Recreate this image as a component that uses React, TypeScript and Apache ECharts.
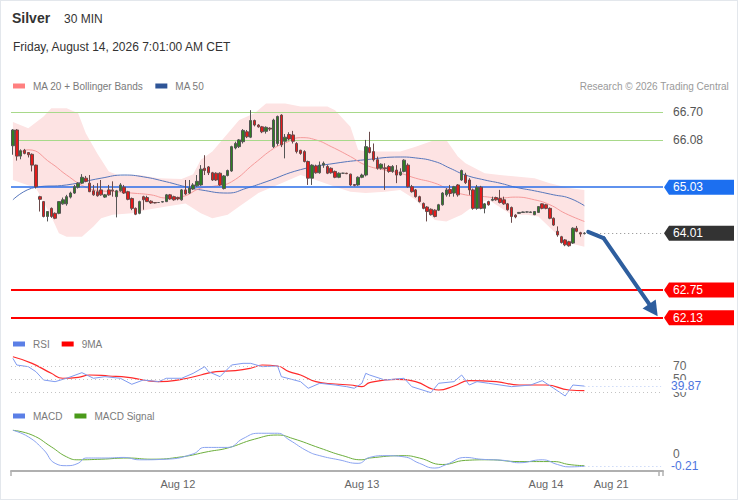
import React, { useEffect, useRef } from 'react';
import * as echarts from 'echarts';

const FONT = '"Liberation Sans", Arial, Helvetica, sans-serif';

// ---- categories (30-minute bars, plus empty room on the right for the projection)
const N_CATEGORIES = 170;
const START_TIME = Date.UTC(2026, 7, 11, 2, 30);
const categories = Array.from({ length: N_CATEGORIES }, (_, i) =>
  new Date(START_TIME + i * 30 * 60 * 1000).toISOString()
);
const xTickIndex = [43, 91, 139, 156];
const xTickText = ['Aug 12', 'Aug 13', 'Aug 14', 'Aug 21'];

// ---- candles
const opens = [
  65.95, 66.30, 65.72, 65.85, 65.80, 65.76, 65.52, 64.82, 64.71, 64.38,
  64.56, 64.45, 64.45, 64.66, 64.66, 64.81, 64.90, 65.03, 65.12, 65.23,
  65.12, 64.95, 64.93, 64.97, 64.81, 64.97, 64.97, 64.82, 64.95, 65.03,
  64.93, 64.78, 64.56, 64.45, 64.82, 64.80, 64.72, 64.69, 64.69, 64.70,
  64.71, 64.86, 64.82, 64.80, 64.75, 64.97, 64.90, 64.99, 65.06, 65.08,
  65.45, 65.48, 65.35, 65.34, 65.34, 65.00, 65.29, 65.39, 65.90, 65.93,
  66.04, 66.26, 66.14, 66.51, 66.41, 66.37, 66.27, 66.34, 65.93, 66.00,
  66.63, 66.05, 66.20, 66.19, 66.00, 65.85, 65.82, 65.60, 65.23, 65.50,
  65.35, 65.52, 65.49, 65.45, 65.38, 65.25, 65.34, 65.34, 65.32, 65.09,
  65.08, 65.25, 65.30, 65.91, 65.82, 65.64, 65.45, 65.46, 65.49, 65.38,
  65.41, 65.30, 65.38, 65.52, 65.04, 64.97, 64.82, 64.67, 64.59, 64.54,
  64.52, 64.52, 64.64, 64.86, 64.98, 64.90, 65.08, 65.19, 65.30, 65.19,
  64.97, 64.56, 65.03, 64.56, 64.71, 64.74, 64.80, 64.78, 64.75, 64.66,
  64.58, 64.41, 64.45, 64.47, 64.48, 64.47, 64.42, 64.47, 64.66, 64.64,
  64.56, 64.34, 64.05, 63.93, 63.86, 63.82, 63.79, 64.12, 64.02, 64.00,
];
const closes = [
  66.30, 65.72, 65.84, 65.78, 65.75, 65.52, 65.04, 64.76, 64.38, 64.49,
  64.38, 64.34, 64.71, 64.75, 64.82, 64.90, 65.04, 65.12, 65.25, 65.16,
  64.93, 64.86, 64.84, 64.86, 64.86, 64.86, 64.95, 64.95, 65.08, 64.90,
  64.76, 64.56, 64.43, 64.71, 64.75, 64.71, 64.68, 64.68, 64.69, 64.71,
  64.86, 64.77, 64.75, 64.77, 64.97, 64.88, 65.01, 65.08, 65.16, 65.43,
  65.40, 65.35, 65.19, 65.19, 65.08, 65.28, 65.40, 65.93, 66.00, 66.08,
  66.29, 66.15, 66.51, 66.41, 66.37, 66.26, 66.36, 66.32, 66.52, 66.60,
  65.97, 66.14, 66.10, 66.05, 65.82, 65.78, 65.60, 65.23, 65.52, 65.35,
  65.52, 65.56, 65.34, 65.35, 65.25, 65.34, 65.34, 65.33, 65.08, 65.07,
  65.25, 65.30, 65.93, 65.80, 65.64, 65.45, 65.54, 65.44, 65.38, 65.49,
  65.30, 65.37, 65.63, 65.04, 64.93, 64.82, 64.71, 64.56, 64.49, 64.42,
  64.38, 64.64, 64.90, 64.97, 64.89, 65.04, 64.86, 65.40, 65.13, 64.97,
  64.56, 65.03, 64.56, 64.66, 64.64, 64.76, 64.75, 64.69, 64.66, 64.53,
  64.38, 64.37, 64.47, 64.48, 64.48, 64.48, 64.49, 64.60, 64.56, 64.56,
  64.34, 64.19, 63.97, 63.80, 63.75, 63.73, 64.12, 64.05, 63.99, 64.01,
];
const lows = [
  65.75, 65.62, 65.65, 65.76, 65.69, 65.38, 65.00, 64.49, 64.36, 64.27,
  64.35, 64.32, 64.43, 64.64, 64.62, 64.78, 64.88, 65.00, 65.10, 65.14,
  64.92, 64.84, 64.82, 64.84, 64.79, 64.84, 64.82, 64.36, 64.93, 64.88,
  64.74, 64.52, 64.41, 64.43, 64.53, 64.70, 64.66, 64.67, 64.68, 64.69,
  64.70, 64.75, 64.73, 64.74, 64.73, 64.86, 64.88, 64.97, 65.04, 65.06,
  65.30, 65.30, 65.17, 65.17, 65.06, 64.98, 65.27, 65.37, 65.87, 65.90,
  66.00, 66.12, 66.12, 66.38, 66.35, 66.23, 66.22, 66.28, 65.90, 65.95,
  65.92, 65.67, 66.07, 66.00, 65.78, 65.75, 65.58, 65.08, 65.08, 65.33,
  65.33, 65.46, 65.32, 65.33, 65.23, 65.23, 65.33, 65.32, 65.06, 65.05,
  65.06, 65.23, 65.27, 65.78, 65.60, 65.42, 65.42, 64.97, 65.35, 65.35,
  65.12, 65.28, 65.36, 65.02, 64.91, 64.80, 64.69, 64.54, 64.27, 64.40,
  64.36, 64.50, 64.62, 64.82, 64.82, 64.82, 64.82, 65.17, 65.10, 64.86,
  64.53, 64.53, 64.54, 64.45, 64.62, 64.72, 64.73, 64.67, 64.64, 64.51,
  64.24, 64.34, 64.44, 64.46, 64.47, 64.46, 64.41, 64.46, 64.54, 64.54,
  64.32, 64.17, 63.93, 63.78, 63.72, 63.71, 63.77, 64.03, 63.93, 63.98,
];
const highs = [
  66.32, 66.32, 65.87, 65.88, 65.81, 65.78, 65.53, 64.84, 64.72, 64.50,
  64.58, 64.47, 64.72, 64.80, 64.86, 64.93, 65.08, 65.14, 65.32, 65.28,
  65.30, 65.08, 65.12, 65.19, 64.88, 65.08, 65.16, 64.97, 65.12, 65.08,
  64.95, 64.80, 64.58, 64.73, 64.84, 64.84, 64.74, 64.70, 64.70, 64.72,
  64.88, 64.88, 64.84, 64.82, 64.99, 65.19, 65.19, 65.12, 65.30, 65.52,
  65.74, 65.50, 65.37, 65.36, 65.36, 65.30, 65.42, 65.95, 66.04, 66.10,
  66.32, 66.30, 66.74, 66.53, 66.43, 66.39, 66.38, 66.36, 66.55, 66.62,
  66.65, 66.21, 66.25, 66.28, 66.03, 65.86, 65.85, 65.62, 65.54, 65.53,
  65.60, 65.60, 65.52, 65.47, 65.40, 65.36, 65.35, 65.35, 65.33, 65.10,
  65.27, 65.33, 66.08, 66.26, 66.00, 65.71, 65.56, 65.56, 65.52, 65.52,
  65.52, 65.45, 65.65, 65.56, 65.08, 64.99, 64.84, 64.69, 64.61, 64.56,
  64.54, 64.66, 64.92, 65.01, 65.08, 65.06, 65.10, 65.42, 65.35, 65.23,
  65.00, 65.08, 65.06, 64.68, 64.73, 64.82, 64.82, 64.97, 64.82, 64.68,
  64.60, 64.43, 64.48, 64.49, 64.49, 64.49, 64.50, 64.61, 64.67, 64.66,
  64.58, 64.36, 64.16, 63.95, 63.88, 63.84, 64.14, 64.17, 64.04, 64.03,
];

// ---- overlays: [bar index, value]
const ma20 = [
  [1, 65.75], [4, 65.86], [10, 65.56], [14, 65.30], [19, 65.03], [23, 64.95], [27, 64.93],
  [31, 64.90], [36, 64.86], [40, 64.79], [44, 64.82], [49, 65.01], [53, 65.06], [57, 65.15],
  [63, 65.56], [68, 65.89], [71, 66.01], [75, 66.13], [79, 66.08], [83, 65.93], [88, 65.71],
  [92, 65.52], [97, 65.41], [101, 65.34], [105, 65.23], [110, 65.12], [114, 64.97],
  [118, 64.86], [123, 64.82], [127, 64.79], [131, 64.81], [136, 64.75], [140, 64.64],
  [144, 64.45], [149, 64.27],
];
const ma50 = [
  [0, 64.75], [6, 65.03], [14, 65.08], [23, 65.23], [29, 65.30], [34, 65.26], [40, 65.15],
  [45, 65.04], [49, 64.97], [56, 64.90], [61, 65.01], [66, 65.15], [75, 65.42], [84, 65.56],
  [92, 65.64], [101, 65.70], [105, 65.68], [110, 65.60], [114, 65.45], [118, 65.30],
  [123, 65.19], [127, 65.12], [131, 65.03], [136, 64.95], [141, 64.86], [145, 64.79],
  [149, 64.62],
];
const bollUpper = [
  [0, 66.48], [4, 66.34], [8, 66.60], [10, 66.78], [14, 66.78], [17, 66.67], [19, 66.23],
  [22, 65.78], [25, 65.38], [28, 65.28], [33, 65.30], [38, 65.23], [44, 65.21], [47, 65.32],
  [49, 65.64], [52, 65.82], [59, 66.52], [63, 66.67], [66, 66.89], [71, 66.89], [75, 66.82],
  [82, 66.82], [84, 66.74], [88, 66.37], [90, 65.86], [92, 65.82], [101, 65.82], [105, 65.93],
  [110, 66.08], [113, 66.08], [116, 65.71], [118, 65.56], [123, 65.34], [127, 65.30],
  [136, 65.23], [140, 65.12], [145, 65.01], [149, 64.97],
];
const bollLower = [
  [0, 65.19], [6, 65.01], [10, 64.38], [12, 64.01], [14, 63.93], [18, 63.93], [21, 64.16],
  [23, 64.34], [26, 64.42], [31, 64.45], [35, 64.53], [40, 64.60], [45, 64.67], [49, 64.45],
  [52, 64.34], [56, 64.42], [59, 64.60], [64, 64.90], [70, 65.12], [75, 65.30], [79, 65.19],
  [84, 65.04], [88, 64.93], [92, 64.90], [97, 64.93], [101, 64.97], [105, 64.75], [110, 64.30],
  [113, 64.27], [117, 64.42], [121, 64.67], [124, 64.75], [130, 64.42], [134, 64.42],
  [137, 64.38], [141, 64.05], [145, 63.79], [149, 63.71],
];

// ---- levels & projection
const levelValues = [66.70, 66.08, 65.03, 62.75, 62.13];
const levelKinds = ['plain', 'plain', 'blue', 'red', 'red'];
const forecastPath = [[150, 64.04], [154, 63.90], [167.4, 62.30]];

// ---- RSI panel
const rsi = [
  [0, 81.5], [1, 71.5], [4, 69], [6, 61.5], [8, 49], [11, 46.5], [14, 51.6], [18, 60],
  [21, 51.6], [24, 54], [28, 51.6], [31, 42.6], [34, 49], [38, 46.5], [40, 51.6], [44, 51.6],
  [47, 59], [50, 69], [51, 61.5], [54, 54], [57, 71.5], [60, 74], [62, 74], [65, 69], [69, 70],
  [70, 54], [75, 46.5], [77, 36.6], [80, 44.1], [84, 41.5], [87, 39], [89, 36.6], [91, 44.1],
  [92, 59], [93, 56.5], [97, 49], [102, 51.6], [104, 39], [109, 30], [111, 44.1], [115, 46.5],
  [117, 56.5], [119, 41.5], [121, 46.5], [124, 44.1], [130, 39], [135, 41.5], [138, 48],
  [141, 36.6], [144, 25], [146, 41.5], [149, 39.87],
];
const rsiMa9 = [
  [0, 83.9], [5, 74], [10, 59], [13, 51.6], [17, 53], [20, 56.5], [25, 55], [30, 53], [34, 49],
  [38, 46.5], [44, 50], [49, 56.5], [53, 61.5], [58, 63], [62, 66.6], [65, 71.5], [69, 70],
  [72, 61.5], [75, 56.5], [79, 46.5], [84, 43], [88, 41.5], [91, 39], [93, 45], [100, 50],
  [105, 46.5], [111, 34], [115, 40], [119, 48], [126, 46.5], [132, 41.5], [139, 41.5],
  [145, 34], [149, 33],
];
const rsiLevels = [70, 50, 30];

// ---- MACD panel
const macd = [
  [0, 0.40], [4, 0.29], [8, 0.07], [11, -0.16], [14, -0.20], [17, -0.16], [19, -0.07],
  [24, -0.07], [29, -0.06], [33, -0.10], [40, -0.09], [47, 0], [50, 0.11], [56, 0.11],
  [60, 0.26], [64, 0.35], [69, 0.35], [72, 0.24], [77, 0.04], [80, -0.03], [85, -0.10],
  [90, -0.16], [93, -0.06], [97, -0.03], [102, -0.05], [106, -0.16], [110, -0.24],
  [113, -0.18], [118, -0.06], [122, -0.09], [128, -0.11], [132, -0.15], [138, -0.10],
  [142, -0.18], [145, -0.22], [149, -0.21],
];
const macdSignal = [
  [0, 0.40], [5, 0.32], [10, 0.12], [14, -0.05], [17, -0.10], [23, -0.09], [30, -0.07],
  [36, -0.09], [44, -0.05], [51, 0.04], [56, 0.10], [63, 0.25], [69, 0.32], [73, 0.26],
  [80, 0.10], [86, -0.03], [91, -0.10], [93, -0.07], [102, -0.03], [106, -0.07], [112, -0.18],
  [118, -0.11], [124, -0.10], [132, -0.13], [141, -0.13], [145, -0.18], [149, -0.20],
];

export default function App() {
  const ref = useRef<HTMLDivElement>(null);

  useEffect(() => {
    document.body.style.margin = '0';
    const chart = echarts.init(ref.current as HTMLDivElement, null, { renderer: 'svg' });

    const lastIdx = closes.length - 1;
    const lastClose = closes[lastIdx];
    const lastRsi = rsi[rsi.length - 1];
    const lastMacd = macd[macd.length - 1];
    const candleData = opens.map((o, i) => [o, closes[i], lows[i], highs[i]]);
    const tagValues = levelValues.concat([lastClose]);
    const tagKinds = levelKinds.concat(['dark']);
    const tagColors: Record<string, string> = { blue: '#1c6ff0', red: '#ff0000', dark: '#333333' };

    const legendCommon = {
      icon: 'rect',
      itemWidth: 12,
      itemHeight: 5,
      itemGap: 12,
      padding: 0,
      selectedMode: false,
      textStyle: { color: '#7a7a7a', fontSize: 10, fontFamily: FONT, padding: [0, 0, 0, 3] },
    };

    const labelFor = (i: number) => {
      const k = xTickIndex.indexOf(i);
      return k >= 0 ? xTickText[k] : '';
    };

    const option: any = {
      animation: false,
      textStyle: { fontFamily: FONT },
      title: [
        { text: 'Silver', left: 12, top: 11, padding: 0, textStyle: { fontSize: 14, fontWeight: 'bold', color: '#333', fontFamily: FONT } },
        { text: '30 MIN', left: 64, top: 13, padding: 0, textStyle: { fontSize: 12, fontWeight: 'normal', color: '#333', fontFamily: FONT } },
        { text: 'Friday, August 14, 2026 7:01:00 AM CET', left: 13, top: 41, padding: 0, textStyle: { fontSize: 12, fontWeight: 'normal', color: '#333', fontFamily: FONT } },
        { text: 'Research © 2026 Trading Central', right: 9, top: 81, padding: 0, textStyle: { fontSize: 10, fontWeight: 'normal', color: '#9a9a9a', fontFamily: FONT } },
      ],
      legend: [
        { ...legendCommon, data: ['MA 20 + Bollinger Bands', 'MA 50'], left: 13, top: 81 },
        { ...legendCommon, data: ['RSI', '9MA'], left: 13, top: 339 },
        { ...legendCommon, data: ['MACD', 'MACD Signal'], left: 13, top: 411 },
      ],
      grid: [
        { left: 11, right: 75, top: 98, height: 232 },
        { left: 11, right: 75, top: 352, height: 48 },
        { left: 11, right: 75, top: 425, height: 46 },
      ],
      xAxis: [0, 1, 2].map((g) => ({
        type: 'category',
        gridIndex: g,
        data: categories,
        show: g === 2,
        axisLine: { show: g === 2, onZero: false, lineStyle: { color: '#b0b0b0', width: 2 } },
        axisTick: {
          show: g === 2,
          interval: (i: number) => i === 0 || i === N_CATEGORIES - 1,
          length: 5,
          lineStyle: { color: '#b0b0b0', width: 1.5 },
        },
        axisLabel: {
          show: g === 2,
          interval: 0,
          formatter: (_v: string, i: number) => labelFor(i),
          color: '#666',
          fontSize: 11,
          margin: 7,
          fontFamily: FONT,
        },
        splitLine: { show: false },
      })),
      yAxis: [
        { type: 'value', gridIndex: 0, min: 61.86, max: 67.01, show: false, splitLine: { show: false } },
        { type: 'value', gridIndex: 1, min: 19, max: 91, show: false, splitLine: { show: false } },
        { type: 'value', gridIndex: 2, min: -0.29, max: 0.49, show: false, splitLine: { show: false } },
      ],
      series: [
        {
          type: 'custom',
          name: 'band',
          xAxisIndex: 0,
          yAxisIndex: 0,
          silent: true,
          z: 1,
          data: [bollUpper[0]],
          renderItem: (_params: any, api: any) => {
            const up = bollUpper.map((p) => api.coord(p));
            const lo = bollLower.slice().reverse().map((p) => api.coord(p));
            return {
              type: 'polygon',
              shape: { points: up.concat(lo) },
              style: { fill: '#fde3e3', stroke: 'none' },
            };
          },
        },
        {
          type: 'line',
          name: 'MA 50',
          xAxisIndex: 0,
          yAxisIndex: 0,
          data: ma50,
          smooth: true,
          showSymbol: false,
          z: 3,
          itemStyle: { color: '#2f5597' },
          lineStyle: { color: '#5676bb', width: 1 },
          markLine: {
            silent: true,
            symbol: ['none', 'none'],
            label: { show: false },
            data: levelValues.map((v, i) => ({
              yAxis: v,
              lineStyle:
                levelKinds[i] === 'plain'
                  ? { color: '#a8d98a', width: 1, type: 'solid' }
                  : levelKinds[i] === 'blue'
                  ? { color: '#2a6ee8', width: 1.5, type: 'solid' }
                  : { color: '#ff0000', width: 2, type: 'solid' },
            })),
          },
        },
        {
          type: 'line',
          name: 'MA 20 + Bollinger Bands',
          xAxisIndex: 0,
          yAxisIndex: 0,
          data: ma20,
          smooth: true,
          showSymbol: false,
          z: 3,
          itemStyle: { color: '#ff8080' },
          lineStyle: { color: '#f59a9a', width: 1 },
        },
        {
          type: 'candlestick',
          name: 'Silver',
          xAxisIndex: 0,
          yAxisIndex: 0,
          data: candleData,
          barWidth: 3,
          z: 5,
          itemStyle: {
            color: '#2f7f22',
            color0: '#e41a1a',
            borderColor: '#555',
            borderColor0: '#6a4a4a',
            borderWidth: 1,
          },
          markLine: {
            silent: true,
            symbol: ['none', 'none'],
            label: { show: false },
            data: [
              [
                { coord: [lastIdx + 1, lastClose], lineStyle: { color: '#888', width: 1, type: [1, 3] } },
                { coord: [N_CATEGORIES - 1, lastClose] },
              ],
              [
                { coord: forecastPath[0], lineStyle: { color: '#2e5e9e', width: 4, type: 'solid', cap: 'round' } },
                { coord: forecastPath[1] },
              ],
              [
                { coord: forecastPath[1], lineStyle: { color: '#2e5e9e', width: 4, type: 'solid', cap: 'round' } },
                { coord: forecastPath[2], symbol: 'triangle', symbolSize: [16, 15] },
              ],
            ],
          },
        },
        {
          type: 'custom',
          name: 'tags',
          xAxisIndex: 0,
          yAxisIndex: 0,
          silent: true,
          clip: false,
          z: 10,
          data: tagValues.map((v) => [0, v]),
          renderItem: (params: any, api: any) => {
            const v = api.value(1);
            const y = api.coord([0, v])[1];
            const cs = params.coordSys;
            const x0 = cs.x + cs.width;
            const kind = tagKinds[params.dataIndex];
            const txt = Number(v).toFixed(2);
            if (kind === 'plain') {
              return {
                type: 'text',
                x: x0 + 10,
                y,
                style: { text: txt, fill: '#555', fontSize: 12, fontFamily: FONT, verticalAlign: 'middle', align: 'left' },
              };
            }
            return {
              type: 'group',
              children: [
                {
                  type: 'polygon',
                  shape: {
                    points: [
                      [x0 + 1, y],
                      [x0 + 6, y - 7.5],
                      [x0 + 71, y - 7.5],
                      [x0 + 71, y + 7.5],
                      [x0 + 6, y + 7.5],
                    ],
                  },
                  style: { fill: tagColors[kind] },
                },
                {
                  type: 'text',
                  x: x0 + 10,
                  y,
                  style: { text: txt, fill: '#fff', fontSize: 12, fontFamily: FONT, verticalAlign: 'middle', align: 'left' },
                },
              ],
            };
          },
        },
        {
          type: 'line',
          name: 'RSI',
          xAxisIndex: 1,
          yAxisIndex: 1,
          data: rsi,
          showSymbol: false,
          z: 4,
          itemStyle: { color: '#5b7fe6' },
          lineStyle: { color: '#7f9bf0', width: 1 },
          markLine: {
            silent: true,
            symbol: ['none', 'none'],
            label: { show: true, position: 'end', distance: 10, color: '#666', fontSize: 12, fontFamily: FONT },
            lineStyle: { color: '#c4c4c4', width: 1, type: [1, 3] },
            data: [
              ...rsiLevels.map((v) => ({ yAxis: v, label: { formatter: String(v) } })),
              [
                {
                  coord: lastRsi,
                  lineStyle: { color: '#b6c8f4', width: 1, type: [1, 3] },
                  label: { formatter: lastRsi[1].toFixed(2), color: '#4d74de', backgroundColor: '#fff' },
                },
                { coord: [N_CATEGORIES - 1, lastRsi[1]] },
              ],
            ],
          },
        },
        {
          type: 'line',
          name: '9MA',
          xAxisIndex: 1,
          yAxisIndex: 1,
          data: rsiMa9,
          smooth: true,
          showSymbol: false,
          z: 3,
          itemStyle: { color: '#ff0000' },
          lineStyle: { color: '#ff2a2a', width: 1.2 },
        },
        {
          type: 'line',
          name: 'MACD',
          xAxisIndex: 2,
          yAxisIndex: 2,
          data: macd,
          smooth: true,
          showSymbol: false,
          z: 4,
          itemStyle: { color: '#5b7fe6' },
          lineStyle: { color: '#8aa3f0', width: 1 },
          markLine: {
            silent: true,
            symbol: ['none', 'none'],
            label: { show: true, position: 'end', distance: 10, color: '#666', fontSize: 12, fontFamily: FONT },
            data: [
              { yAxis: 0, lineStyle: { color: 'rgba(0,0,0,0)', width: 1 }, label: { formatter: '0', color: '#666' } },
              [
                {
                  coord: lastMacd,
                  lineStyle: { color: '#b6c8f4', width: 1, type: [1, 3] },
                  label: { formatter: lastMacd[1].toFixed(2), color: '#4d74de' },
                },
                { coord: [N_CATEGORIES - 1, lastMacd[1]] },
              ],
            ],
          },
        },
        {
          type: 'line',
          name: 'MACD Signal',
          xAxisIndex: 2,
          yAxisIndex: 2,
          data: macdSignal,
          smooth: true,
          showSymbol: false,
          z: 3,
          itemStyle: { color: '#4a9a1a' },
          lineStyle: { color: '#6cae3c', width: 1 },
        },
      ],
    };

    chart.setOption(option);
    return () => chart.dispose();
  }, []);

  return (
    <div style={{ position: 'fixed', left: 0, top: 0, width: 738, height: 500, background: '#fff' }}>
      <div ref={ref} style={{ width: 738, height: 500 }} />
      <div
        style={{
          position: 'absolute',
          left: 0,
          top: 0,
          width: 738,
          height: 500,
          boxSizing: 'border-box',
          border: '1px solid #e3e7ec',
          pointerEvents: 'none',
        }}
      />
    </div>
  );
}
